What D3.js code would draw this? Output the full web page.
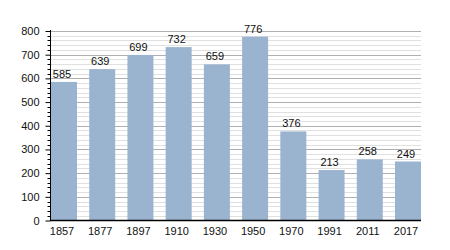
<!DOCTYPE html>
<html><head><meta charset="utf-8">
<script src="https://cdn.jsdelivr.net/npm/d3@7"></script>
<style>body{margin:0;background:#fff}svg{display:block}text{font-family:"Liberation Sans",Arial,sans-serif}</style>
</head><body><svg id="c" width="450" height="250"></svg>
<script>
const years = ["1857","1877","1897","1910","1930","1950","1970","1991","2011","2017"];
const population = [585,639,699,732,659,776,376,213,258,249];
const yTicks = [0,100,200,300,400,500,600,700,800];

(function(){
const svg = d3.select("#c");
const mLeft = 50.5, mRight = 421, mTop = 31, mBottom = 220.5;
const x = d3.scaleBand().domain(years).range([mLeft+0.5, mRight]).paddingInner(0.32).paddingOuter(0);
const y = d3.scaleLinear().domain([0,800]).range([mBottom, mTop]);

const minor = d3.range(0, 801, 20).filter(v => v % 100 !== 0);
svg.append("g").selectAll("line").data(minor).join("line")
  .attr("x1", mLeft).attr("x2", mRight)
  .attr("y1", d => Math.round(y(d))+0.5).attr("y2", d => Math.round(y(d))+0.5)
  .attr("stroke", "#e0e0e0").attr("stroke-width", 1);
svg.append("g").selectAll("line").data(yTicks.slice(1)).join("line")
  .attr("x1", mLeft).attr("x2", mRight)
  .attr("y1", d => Math.round(y(d))+0.5).attr("y2", d => Math.round(y(d))+0.5)
  .attr("stroke", "#b0b0b0").attr("stroke-width", 1);

svg.append("g").selectAll("rect").data(population).join("rect")
  .attr("x", (d,i) => x(years[i])).attr("width", x.bandwidth())
  .attr("y", d => y(d)).attr("height", d => mBottom - y(d))
  .attr("fill", "#9ab3cf");

svg.append("g").selectAll("text").data(population).join("text")
  .attr("x", (d,i) => x(years[i]) + x.bandwidth()/2 - 2)
  .attr("y", d => y(d) - 4)
  .attr("text-anchor", "middle").attr("font-size", 11).attr("fill", "#111")
  .text(d => d);

svg.append("g").selectAll("line").data(minor).join("line")
  .attr("x1", mLeft-3).attr("x2", mLeft)
  .attr("y1", d => Math.round(y(d))+0.5).attr("y2", d => Math.round(y(d))+0.5)
  .attr("stroke", "#000");

const yAxis = d3.axisLeft(y).tickValues(yTicks).tickSize(5).tickPadding(6).tickFormat(d3.format("d"));
const gy = svg.append("g").attr("transform", `translate(${mLeft},0)`).call(yAxis);
gy.select(".domain").remove();
gy.selectAll("text").attr("font-size", 11).attr("fill", "#111").attr("font-family", "Liberation Sans, Arial, sans-serif");
gy.selectAll(".tick line").attr("stroke", "#000");
svg.append("line").attr("x1", mLeft).attr("x2", mLeft).attr("y1", mTop-1).attr("y2", mBottom).attr("stroke", "#000");

const xAxis = d3.axisBottom(x).tickSize(0).tickPadding(7);
const gx = svg.append("g").attr("transform", `translate(-2,${mBottom})`).call(xAxis);
gx.select(".domain").remove();
gx.selectAll("text").attr("font-size", 11).attr("fill", "#111").attr("font-family", "Liberation Sans, Arial, sans-serif");
svg.append("line").attr("x1", mLeft-0.5).attr("x2", mRight).attr("y1", mBottom).attr("y2", mBottom).attr("stroke", "#000").attr("stroke-width", 1.5);
})();
</script></body></html>
